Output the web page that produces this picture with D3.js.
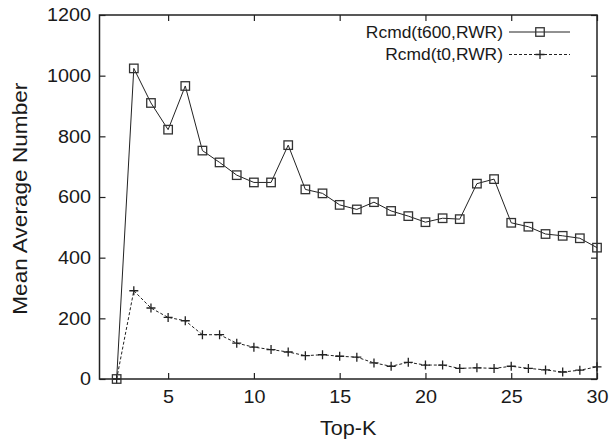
<!DOCTYPE html>
<html>
<head>
<meta charset="utf-8">
<script src="https://cdn.jsdelivr.net/npm/d3@7"></script>
<style>
body { margin: 0; background: #fff; }
svg text { font-family: "Liberation Sans", Arial, Helvetica, sans-serif; fill: #1a1a1a; }
</style>
</head>
<body>
<svg id="chart" width="616" height="442"></svg>
<script>
const topK = [2,3,4,5,6,7,8,9,10,11,12,13,14,15,16,17,18,19,20,21,22,23,24,25,26,27,28,29,30];
const t600 = [0,1024,910,822,966,753,714,672,648,648,771,625,612,574,559,583,554,537,517,530,527,644,659,515,502,478,472,464,433];
const t0 = [0,291,234,203,192,146,146,118,105,97,89,77,80,75,72,53,42,55,46,46,35,37,35,42,35,30,23,29,40];
const seriesNames = ["Rcmd(t600,RWR)", "Rcmd(t0,RWR)"];
const xTicks = [5,10,15,20,25,30];
const yTicks = [0,200,400,600,800,1000,1200];
const xLabel = "Top-K";
const yLabel = "Mean Average Number";

const svg = d3.select("#chart");
const L = 99.5, R = 597, T = 15, B = 379;
const x = d3.scaleLinear().domain([1, 30]).range([L, R]);
const y = d3.scaleLinear().domain([0, 1200]).range([B, T]);
const axisColor = "#222";
const tickLen = 6;

// horizontally stretch text (source glyphs are slightly wide)
function stretch(sel, sx) {
  sel.each(function () {
    const xx = +(this.getAttribute("x") || 0);
    this.setAttribute("x", xx / sx);
    const tr = this.getAttribute("transform") || "";
    this.setAttribute("transform", (tr + ` scale(${sx},1)`).trim());
  });
}

const g = svg.append("g");
g.append("g").attr("transform", `translate(0,${B})`)
  .call(d3.axisBottom(x).tickValues(xTicks).tickSizeInner(-tickLen).tickSizeOuter(0).tickPadding(10).tickFormat(d3.format("d")))
  .call(a => a.select(".domain").remove())
  .call(a => a.selectAll("text").attr("font-size", 18.5).attr("dy", "0.78em").call(stretch, 1.07));
g.append("g").attr("transform", `translate(0,${T})`)
  .call(d3.axisTop(x).tickValues(xTicks).tickSizeInner(-tickLen).tickSizeOuter(0).tickFormat(""))
  .call(a => a.select(".domain").remove());
g.append("g").attr("transform", `translate(${L},0)`)
  .call(d3.axisLeft(y).tickValues(yTicks).tickSizeInner(-tickLen).tickSizeOuter(0).tickPadding(8.5).tickFormat(d3.format("d")))
  .call(a => a.select(".domain").remove())
  .call(a => a.selectAll("text").attr("font-size", 18.5).call(stretch, 1.07));
g.append("g").attr("transform", `translate(${R},0)`)
  .call(d3.axisRight(y).tickValues(yTicks).tickSizeInner(-tickLen).tickSizeOuter(0).tickFormat(""))
  .call(a => a.select(".domain").remove());
g.selectAll(".tick line").attr("stroke", axisColor).attr("stroke-width", 1.2);

// frame
svg.append("rect").attr("x", L).attr("y", T).attr("width", R - L).attr("height", B - T)
  .attr("fill", "none").attr("stroke", axisColor).attr("stroke-width", 1.5);

// axis titles
svg.append("text").attr("x", (L + R) / 2).attr("y", 435).attr("text-anchor", "middle")
  .attr("font-size", 19.5).text(xLabel).call(stretch, 1.11);
svg.append("text").attr("transform", `translate(27.3,198.7) rotate(-90)`)
  .attr("text-anchor", "middle").attr("font-size", 19.5).text(yLabel).call(stretch, 1.16);

// series
const line = d3.line().x(d => x(d[0])).y(d => y(d[1]));
const d600 = topK.map((k, i) => [k, t600[i]]);
const d0 = topK.map((k, i) => [k, t0[i]]);

svg.append("path").datum(d0).attr("d", line).attr("fill", "none")
  .attr("stroke", "#222").attr("stroke-width", 1).attr("stroke-dasharray", "3,2");
svg.append("path").datum(d600).attr("d", line).attr("fill", "none")
  .attr("stroke", "#222").attr("stroke-width", 1);

const sq = 8.5;
function square(sel) {
  sel.attr("width", sq).attr("height", sq).attr("x", d => x(d[0]) - sq / 2).attr("y", d => y(d[1]) - sq / 2)
    .attr("fill", "none").attr("stroke", "#333").attr("stroke-width", 1.3);
}
const pl = 4.5;
function plus(sel, cx, cy) {
  sel.attr("d", d => {
    const px = cx(d), py = cy(d);
    return `M${px - pl},${py}H${px + pl}M${px},${py - pl}V${py + pl}`;
  }).attr("stroke", "#222").attr("stroke-width", 1.3).attr("fill", "none");
}
svg.append("g").selectAll("path").data(d0).join("path")
  .call(plus, d => x(d[0]), d => y(d[1]));
svg.append("g").selectAll("rect").data(d600).join("rect").call(square);

// legend
const legRows = [
  { name: seriesNames[0], yy: 32, dash: null, marker: "square" },
  { name: seriesNames[1], yy: 54.5, dash: "3,2", marker: "plus" }
];
const lx0 = 509, lx1 = 570, lmx = 540;
legRows.forEach(r => {
  svg.append("text").attr("x", 503).attr("y", r.yy).attr("dy", "0.35em")
    .attr("text-anchor", "end").attr("font-size", 16).text(r.name).call(stretch, 1.09);
  const ln = svg.append("line").attr("x1", lx0).attr("x2", lx1).attr("y1", r.yy).attr("y2", r.yy)
    .attr("stroke", "#222").attr("stroke-width", 1);
  if (r.dash) ln.attr("stroke-dasharray", r.dash);
  if (r.marker === "square") {
    svg.append("rect").attr("x", lmx - sq / 2).attr("y", r.yy - sq / 2).attr("width", sq).attr("height", sq)
      .attr("fill", "none").attr("stroke", "#333").attr("stroke-width", 1.3);
  } else {
    svg.append("path").datum([0]).call(plus, () => lmx, () => r.yy);
  }
});
</script>
</body>
</html>
